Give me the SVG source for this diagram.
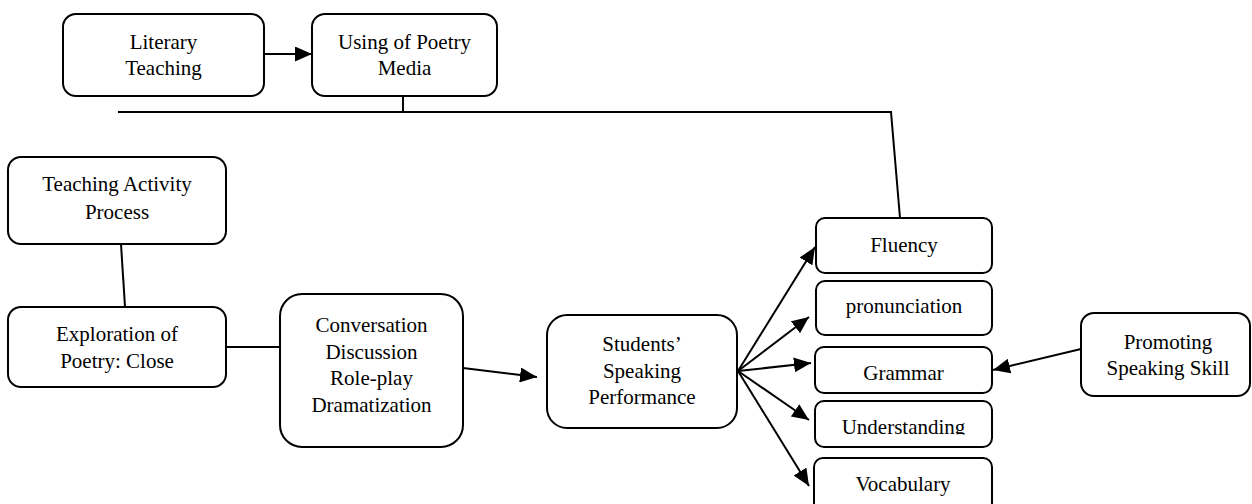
<svg xmlns="http://www.w3.org/2000/svg" width="1252" height="504" viewBox="0 0 1252 504">
<style>
.box{fill:#fff;stroke:#000;stroke-width:2}
.ln{fill:none;stroke:#000;stroke-width:2}
text{font-family:"Liberation Serif","Times New Roman",serif;font-size:21px;fill:#000;text-anchor:middle}
</style>
<defs>
<marker id="ah" markerUnits="userSpaceOnUse" markerWidth="17" markerHeight="15" refX="17" refY="7.5" orient="auto">
<path d="M0,0 L17,7.5 L0,15 z" fill="#000"/>
</marker>
<clipPath id="clipU"><rect x="816" y="400" width="176" height="34.5"/></clipPath>
</defs>
<rect width="1252" height="504" fill="#fff"/>
<g id="connectors">
<line class="ln" x1="264" y1="54" x2="312" y2="54" marker-end="url(#ah)"/>
<polyline class="ln" points="403,96 403,112"/>
<polyline class="ln" points="118,112 891,112 900,218"/>
<line class="ln" x1="121" y1="244" x2="125" y2="307"/>
<line class="ln" x1="226" y1="347" x2="280" y2="347"/>
<line class="ln" x1="463" y1="368" x2="537" y2="377" marker-end="url(#ah)"/>
<line class="ln" x1="738" y1="371" x2="815" y2="247" marker-end="url(#ah)"/>
<line class="ln" x1="738" y1="371" x2="809" y2="317" marker-end="url(#ah)"/>
<line class="ln" x1="738" y1="371" x2="811" y2="363" marker-end="url(#ah)"/>
<line class="ln" x1="738" y1="371" x2="809" y2="420" marker-end="url(#ah)"/>
<line class="ln" x1="738" y1="371" x2="809" y2="486" marker-end="url(#ah)"/>
<line class="ln" x1="1081" y1="349" x2="993" y2="370" marker-end="url(#ah)"/>
</g>
<g id="literary-teaching">
<rect class="box" x="63" y="14" width="201" height="82" rx="13"/>
<text x="163.5" y="49">Literary</text>
<text x="163.5" y="75">Teaching</text>
</g>
<g id="using-poetry-media">
<rect class="box" x="312" y="14" width="185" height="82" rx="13"/>
<text x="404.5" y="49">Using of Poetry</text>
<text x="404.5" y="75">Media</text>
</g>
<g id="teaching-activity-process">
<rect class="box" x="8" y="157" width="218" height="87" rx="13"/>
<text x="117" y="191">Teaching Activity</text>
<text x="117" y="219">Process</text>
</g>
<g id="exploration">
<rect class="box" x="8" y="307" width="218" height="80" rx="13"/>
<text x="117" y="341">Exploration of</text>
<text x="117" y="368">Poetry: Close</text>
</g>
<g id="activities">
<rect class="box" x="280" y="294" width="183" height="153" rx="22"/>
<text x="371.5" y="332">Conversation</text>
<text x="371.5" y="358.5">Discussion</text>
<text x="371.5" y="385">Role-play</text>
<text x="371.5" y="411.5">Dramatization</text>
</g>
<g id="students-speaking-performance">
<rect class="box" x="547" y="315" width="190" height="113" rx="20"/>
<text x="642" y="351">Students’</text>
<text x="642" y="378">Speaking</text>
<text x="642" y="404">Performance</text>
</g>
<g id="fluency">
<rect class="box" x="816" y="218" width="176" height="55" rx="9"/>
<text x="904" y="252">Fluency</text>
</g>
<g id="pronunciation">
<rect class="box" x="816" y="281" width="176" height="54" rx="9"/>
<text x="904" y="313">pronunciation</text>
</g>
<g id="grammar">
<rect class="box" x="815" y="347" width="177" height="46" rx="9"/>
<text x="903.5" y="380">Grammar</text>
</g>
<g id="understanding">
<rect class="box" x="815" y="401" width="177" height="46" rx="9"/>
<text x="903.5" y="434" clip-path="url(#clipU)">Understanding</text>
</g>
<g id="vocabulary">
<rect class="box" x="814" y="458" width="178" height="56" rx="9"/>
<text x="903" y="491">Vocabulary</text>
</g>
<g id="promoting-speaking-skill">
<rect class="box" x="1081" y="313" width="169" height="83" rx="13"/>
<text x="1168" y="349">Promoting</text>
<text x="1168" y="375">Speaking Skill</text>
</g>
</svg>
